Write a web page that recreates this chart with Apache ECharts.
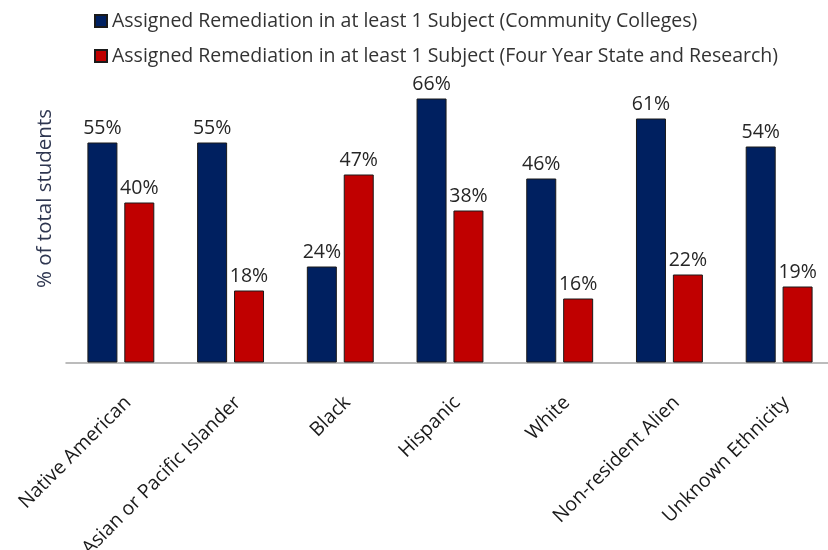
<!DOCTYPE html>
<html>
<head>
<meta charset="utf-8">
<script src="https://cdn.jsdelivr.net/npm/echarts@6/dist/echarts.min.js"></script>
<style>
  html, body { margin: 0; padding: 0; background: #fff; }
  #chart { width: 828px; height: 550px; }
</style>
</head>
<body>
<div id="chart"></div>
<script>
// Ethnic groups along the category axis
const categories = [
  'Native American',
  'Asian or Pacific Islander',
  'Black',
  'Hispanic',
  'White',
  'Non-resident Alien',
  'Unknown Ethnicity'
];

// Share of students assigned remediation (%)
const communityColleges = [55, 55, 24, 66, 46, 61, 54];
const fourYearStateResearch = [40, 18, 47, 38, 16, 22, 19];

const seriesNames = [
  'Assigned Remediation in at least 1 Subject (Community Colleges)',
  'Assigned Remediation in at least 1 Subject (Four Year State and Research)'
];

const FONT = 'Open Sans';
const chart = echarts.init(document.getElementById('chart'), null, { renderer: 'canvas' });

const labelStyle = {
  show: true,
  position: 'top',
  distance: 4,
  formatter: p => p.value + '%',
  fontFamily: FONT,
  fontSize: 19.5,
  color: '#262626'
};

chart.setOption({
  animation: false,
  backgroundColor: '#ffffff',
  legend: {
    orient: 'vertical',
    left: 89,
    top: 6,
    itemWidth: 12,
    itemHeight: 12,
    itemGap: 15,
    icon: 'rect',
    textStyle: { fontFamily: FONT, fontSize: 19.5, color: '#333333' },
    data: seriesNames
  },
  grid: {
    left: 66,
    width: 768,
    top: 34.5,
    bottom: 187.5,
    containLabel: false,
    outerBoundsMode: 'none'
  },
  xAxis: {
    type: 'category',
    data: categories,
    axisLine: { show: true, lineStyle: { color: '#a6a6a6', width: 1.5 } },
    axisTick: { show: false },
    axisLabel: {
      interval: 0,
      rotate: 45,
      margin: 30,
      verticalAlign: 'top',
      fontFamily: FONT,
      fontSize: 19.5,
      color: '#1a1a1a'
    }
  },
  yAxis: {
    type: 'value',
    min: 0,
    max: 82,
    name: '% of total students',
    nameLocation: 'middle',
    nameGap: 10,
    nameTextStyle: { fontFamily: FONT, fontSize: 20.5, color: '#2e3650' },
    axisLine: { show: false },
    axisTick: { show: false },
    axisLabel: { show: false },
    splitLine: { show: false }
  },
  series: [
    {
      name: seriesNames[0],
      type: 'bar',
      data: communityColleges,
      barWidth: 30,
      barGap: '23%',
      itemStyle: { color: '#002060', borderColor: '#1a1a1a', borderWidth: 1 },
      label: labelStyle
    },
    {
      name: seriesNames[1],
      type: 'bar',
      data: fourYearStateResearch,
      barWidth: 30,
      itemStyle: { color: '#c00000', borderColor: '#1a1a1a', borderWidth: 1 },
      label: labelStyle
    }
  ]
});
</script>
</body>
</html>
